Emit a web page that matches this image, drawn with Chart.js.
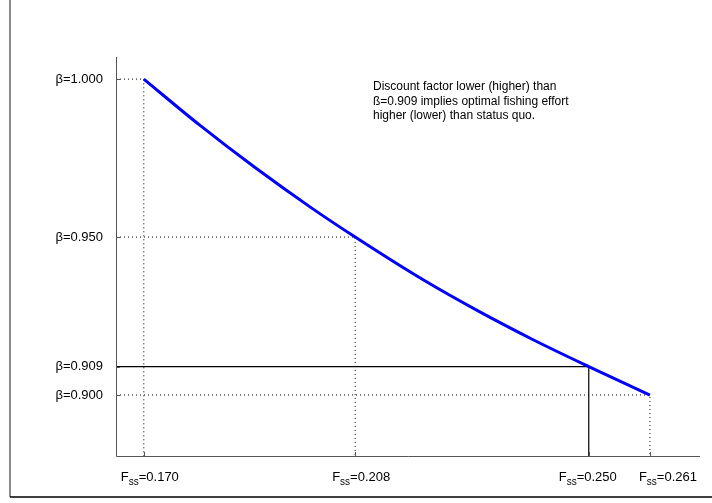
<!DOCTYPE html>
<html>
<head>
<meta charset="utf-8">
<script src="https://cdn.jsdelivr.net/npm/chart.js@4"></script>
<style>
  html, body { margin: 0; padding: 0; background: #fff; }
</style>
</head>
<body>
<canvas id="chart" width="712" height="503"></canvas>
<script>
// curve: steady-state F vs discount factor beta
const fss = [0.170, 0.180, 0.190, 0.200, 0.208, 0.220, 0.230, 0.240, 0.250, 0.261]
const beta = [1.000, 0.9855, 0.9720, 0.9594, 0.950, 0.9367, 0.9267, 0.9175, 0.909, 0.900]

// marked points (tick labels) and which one has the solid guide
const markF = [0.170, 0.208, 0.250, 0.261]
const markBeta = [1.000, 0.950, 0.909, 0.900]
const markSolid = [false, false, true, false]

const noteLines = [
  'Discount factor lower (higher) than',
  'ß=0.909 implies optimal fishing effort',
  'higher (lower) than status quo.'
]

const xMin = 0.165, xMax = 0.270
const yMin = 0.8807, yMax = 1.007

const FONT = '"Liberation Sans", Arial, sans-serif'
// x label nudges (px) so the last two don't collide
const xLabelShift = [6, 6, -1, 18]

const datasets = [{
  data: fss.map((f, i) => ({ x: f, y: beta[i] })),
  showLine: true,
  borderColor: '#0000ff',
  borderWidth: 3,
  pointRadius: 0,
  cubicInterpolationMode: 'monotone',
  clip: false
}]

markF.forEach((f, i) => {
  datasets.push({
    data: [{ x: xMin, y: markBeta[i] }, { x: f, y: markBeta[i] }, { x: f, y: yMin }],
    showLine: true,
    borderColor: '#000',
    borderWidth: markSolid[i] ? 1.2 : 1,
    borderDash: markSolid[i] ? [] : [1, 3],
    pointRadius: 0,
    tension: 0,
    clip: false
  })
})

const decorations = {
  id: 'decorations',
  afterDraw(chart) {
    const ctx = chart.ctx
    const xs = chart.scales.x, ys = chart.scales.y
    const a = chart.chartArea
    ctx.save()

    // figure frame (left + bottom only)
    ctx.strokeStyle = '#666'
    ctx.lineWidth = 1.5
    ctx.beginPath()
    ctx.moveTo(10, 0); ctx.lineTo(10, 497)
    ctx.stroke()
    ctx.strokeStyle = '#000'
    ctx.beginPath()
    ctx.moveTo(10, 497); ctx.lineTo(712, 497)
    ctx.stroke()

    // axes
    ctx.strokeStyle = '#555'
    ctx.lineWidth = 1
    ctx.beginPath()
    ctx.moveTo(a.left + 0.5, a.top); ctx.lineTo(a.left + 0.5, a.bottom + 0.5)
    ctx.lineTo(a.right, a.bottom + 0.5)
    ctx.stroke()

    // tick marks, inward
    ctx.beginPath()
    markBeta.forEach(b => {
      const py = Math.round(ys.getPixelForValue(b)) + 0.5
      ctx.moveTo(a.left, py); ctx.lineTo(a.left + 4, py)
    })
    markF.forEach(f => {
      const px = Math.round(xs.getPixelForValue(f)) + 0.5
      ctx.moveTo(px, a.bottom); ctx.lineTo(px, a.bottom - 4)
    })
    ctx.stroke()

    // y labels
    ctx.fillStyle = '#000'
    ctx.font = '13px ' + FONT
    ctx.textAlign = 'right'
    ctx.textBaseline = 'middle'
    markBeta.forEach(b => {
      ctx.fillText('β=' + b.toFixed(3), a.left - 13, ys.getPixelForValue(b))
    })

    // x labels with subscript
    ctx.textAlign = 'left'
    ctx.textBaseline = 'alphabetic'
    markF.forEach((f, i) => {
      const rest = '=' + f.toFixed(3)
      ctx.font = '13px ' + FONT
      const wF = ctx.measureText('F').width
      const wR = ctx.measureText(rest).width
      ctx.font = '10px ' + FONT
      const wS = ctx.measureText('ss').width
      const total = wF + wS + wR
      let x0 = xs.getPixelForValue(f) - total / 2 + xLabelShift[i]
      const base = a.bottom + 25
      ctx.font = '13px ' + FONT
      ctx.fillText('F', x0, base)
      ctx.font = '10px ' + FONT
      ctx.fillText('ss', x0 + wF, base + 4)
      ctx.font = '13px ' + FONT
      ctx.fillText(rest, x0 + wF + wS, base)
    })

    // note
    ctx.font = '12px ' + FONT
    noteLines.forEach((t, i) => {
      ctx.fillText(t, 373, 90 + i * 14.5)
    })
    ctx.restore()
  }
}

new Chart(document.getElementById('chart'), {
  type: 'scatter',
  data: { datasets },
  options: {
    responsive: false,
    animation: false,
    devicePixelRatio: 1,
    layout: { padding: { left: 116, top: 57, right: 12, bottom: 47 } },
    plugins: { legend: { display: false }, tooltip: { enabled: false } },
    scales: {
      x: { type: 'linear', display: false, min: xMin, max: xMax },
      y: { type: 'linear', display: false, min: yMin, max: yMax }
    }
  },
  plugins: [decorations]
})
</script>
</body>
</html>
